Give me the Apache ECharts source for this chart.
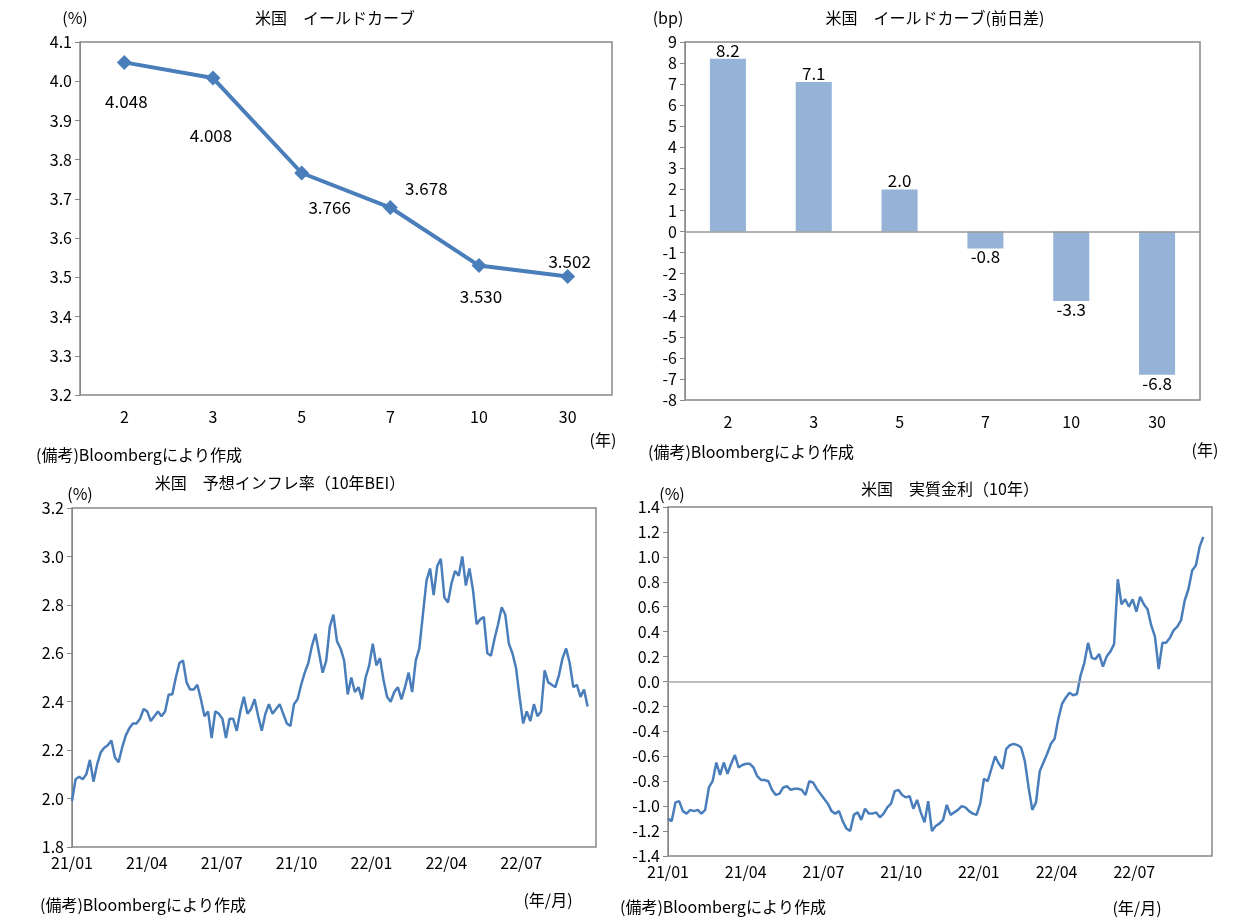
<!DOCTYPE html>
<html><head><meta charset="utf-8">
<script src="https://cdn.jsdelivr.net/npm/echarts@6/dist/echarts.min.js"></script>
<style>html,body{margin:0;padding:0;background:#fff}#c{width:1253px;height:921px}</style>
</head><body><div id="c"></div>
<script>
const tenors = ['2','3','5','7','10','30'];
const yields = [4.048, 4.008, 3.766, 3.678, 3.530, 3.502];
const changes = [8.2, 7.1, 2.0, -0.8, -3.3, -6.8];
// time series sampled every ~4.4 days starting 2021/01 (x in months since 2021/01)
const sampleStepMonths = 0.1435;
const timeTickLabels = ['21/01','21/04','21/07','21/10','22/01','22/04','22/07'];
const bei = [1.99,2.08,2.09,2.08,2.10,2.16,2.07,2.14,2.19,2.21,2.22,2.24,2.17,2.15,2.21,2.26,2.29,2.31,2.31,2.33,
2.37,2.36,2.32,2.34,2.36,2.34,2.36,2.43,2.43,2.50,2.56,2.57,2.48,2.45,2.45,2.47,2.41,2.34,2.36,2.25,
2.36,2.35,2.33,2.25,2.33,2.33,2.28,2.36,2.42,2.35,2.37,2.41,2.34,2.28,2.35,2.39,2.35,2.37,2.39,2.35,
2.31,2.30,2.39,2.41,2.47,2.52,2.56,2.63,2.68,2.60,2.52,2.57,2.71,2.76,2.65,2.62,2.57,2.43,2.50,2.44,
2.46,2.41,2.50,2.55,2.64,2.55,2.58,2.49,2.42,2.40,2.44,2.46,2.41,2.46,2.52,2.44,2.57,2.62,2.76,2.90,
2.95,2.84,2.96,2.99,2.83,2.81,2.89,2.94,2.92,3.00,2.88,2.95,2.86,2.72,2.74,2.75,2.60,2.59,2.66,2.72,
2.79,2.76,2.64,2.60,2.54,2.42,2.31,2.36,2.32,2.39,2.34,2.36,2.53,2.48,2.47,2.46,2.51,2.58,2.62,2.56,
2.46,2.47,2.42,2.45,2.38];
const realRate = [-1.10,-1.12,-0.97,-0.96,-1.04,-1.06,-1.03,-1.04,-1.03,-1.06,-1.03,-0.85,-0.80,-0.65,-0.75,-0.65,-0.74,-0.66,-0.59,-0.69,
-0.67,-0.66,-0.66,-0.69,-0.76,-0.79,-0.79,-0.80,-0.87,-0.91,-0.90,-0.85,-0.84,-0.87,-0.86,-0.86,-0.87,-0.91,-0.80,-0.81,
-0.86,-0.90,-0.94,-0.98,-1.04,-1.06,-1.04,-1.12,-1.18,-1.20,-1.07,-1.05,-1.11,-1.02,-1.06,-1.06,-1.05,-1.09,-1.06,-1.01,
-0.98,-0.88,-0.87,-0.91,-0.93,-0.92,-1.02,-0.95,-1.05,-1.13,-0.96,-1.20,-1.16,-1.14,-1.11,-0.99,-1.07,-1.05,-1.03,-1.00,
-1.01,-1.04,-1.06,-1.07,-0.98,-0.78,-0.80,-0.70,-0.60,-0.66,-0.70,-0.54,-0.51,-0.50,-0.51,-0.53,-0.64,-0.85,-1.03,-0.97,
-0.72,-0.65,-0.58,-0.50,-0.46,-0.30,-0.18,-0.13,-0.09,-0.11,-0.10,0.05,0.15,0.31,0.19,0.18,0.22,0.12,0.20,0.24,
0.30,0.82,0.62,0.66,0.60,0.66,0.56,0.68,0.62,0.58,0.45,0.36,0.10,0.31,0.31,0.35,0.41,0.44,0.49,0.65,
0.74,0.89,0.93,1.08,1.16];

const FONT = '"Noto Sans CJK JP", sans-serif';
const LINE = '#4a7ebb';
const pts = arr => arr.map((v,i)=>[i*sampleStepMonths, v]);
const txt = {color:'#000', fontFamily: FONT, fontSize: 16};
const catX = (gi) => ({type:'category', gridIndex:gi, data:tenors, axisTick:{show:false},
  axisLine:{show:false}, axisLabel:{...txt, margin:14}});
const timeX = (gi) => ({type:'value', gridIndex:gi, min:0, max:21, interval:3,
  axisLine:{show:false}, axisTick:{show:false}, splitLine:{show:false},
  axisLabel:{...txt, margin:8, formatter:v=>timeTickLabels[Math.round(v/3)]||''}});
const valY = (gi,min,max,iv,dec) => ({type:'value', gridIndex:gi, min, max, interval:iv,
  axisLine:{show:true,lineStyle:{color:'#888'}}, axisTick:{show:true,length:5,lineStyle:{color:'#888'}},
  splitLine:{show:false}, axisLabel:{...txt, margin:8, formatter:v=>v.toFixed(dec)}});
const gridBase = {show:true, borderColor:'#888', borderWidth:1.5, backgroundColor:'#fff'};

const labelPos = [[2,18],[-2,36],[28,14],[36,-40],[2,10],[2,-36]];
const ycData = yields.map((v,i)=>({value:v, label:{show:true, position:'bottom', offset:labelPos[i],
  formatter:p=>p.value.toFixed(3), ...txt, fontSize:17}}));

const texts = [
 ['米国　イールドカーブ',335,18,'center'],['(%)',75,18,'center'],
 ['米国　イールドカーブ(前日差)',935,18,'center'],['(bp)',668,18,'center'],
 ['米国　予想インフレ率（10年BEI）',280,483,'center'],['(%)',80,494,'center'],
 ['米国　実質金利（10年）',950,489,'center'],['(%)',672,494,'center'],
 ['(備考)Bloombergにより作成',36,455,'left'],['(備考)Bloombergにより作成',648,452,'left'],
 ['(備考)Bloombergにより作成',40,905,'left'],['(備考)Bloombergにより作成',620,907,'left'],
 ['(年)',603,440,'center'],['(年)',1205,450,'center'],
 ['(年/月)',548,900,'center'],['(年/月)',1137,908,'center']
];

const chart = echarts.init(document.getElementById('c'));
chart.setOption({
  animation:false,
  graphic: texts.map(t=>({type:'text', left:t[3]==='center'?undefined:t[1], x:t[3]==='center'?t[1]:undefined, y:t[2],
    style:{text:t[0], fill:'#000', font:'16px '+FONT, textAlign:t[3], textVerticalAlign:'middle'}})),
  grid:[
    {...gridBase, left:80, top:42, width:532, height:353},
    {...gridBase, left:685, top:42, width:515, height:358},
    {...gridBase, left:72, top:508, width:524, height:339},
    {...gridBase, left:668, top:507, width:544, height:349}
  ],
  xAxis:[catX(0), catX(1), timeX(2), timeX(3)],
  yAxis:[valY(0,3.2,4.1,0.1,1), valY(1,-8,9,1,0), valY(2,1.8,3.2,0.2,1), valY(3,-1.4,1.4,0.2,1)],
  series:[
    {type:'line', xAxisIndex:0, yAxisIndex:0, data:ycData, symbol:'diamond', symbolSize:15,
     lineStyle:{color:LINE,width:4}, itemStyle:{color:LINE}},
    {type:'bar', xAxisIndex:1, yAxisIndex:1, data:changes.map(v=>({value:v,label:{position:v<0?'bottom':'top'}})),
     barWidth:'42%', itemStyle:{color:'#95b3d7'},
     label:{show:true, ...txt, fontSize:17, formatter:p=>p.value.toFixed(1), distance:0},
     markLine:{silent:true, symbol:'none', label:{show:false}, lineStyle:{color:'#999',type:'solid',width:1.5}, data:[{yAxis:0}]}},
    {type:'line', xAxisIndex:2, yAxisIndex:2, data:pts(bei), symbol:'none', lineStyle:{color:LINE,width:2.5}},
    {type:'line', xAxisIndex:3, yAxisIndex:3, data:pts(realRate), symbol:'none', lineStyle:{color:LINE,width:2.5},
     markLine:{silent:true, symbol:'none', label:{show:false}, lineStyle:{color:'#aaa',type:'solid',width:1.5}, data:[{yAxis:0}]}}
  ]
});
</script></body></html>
